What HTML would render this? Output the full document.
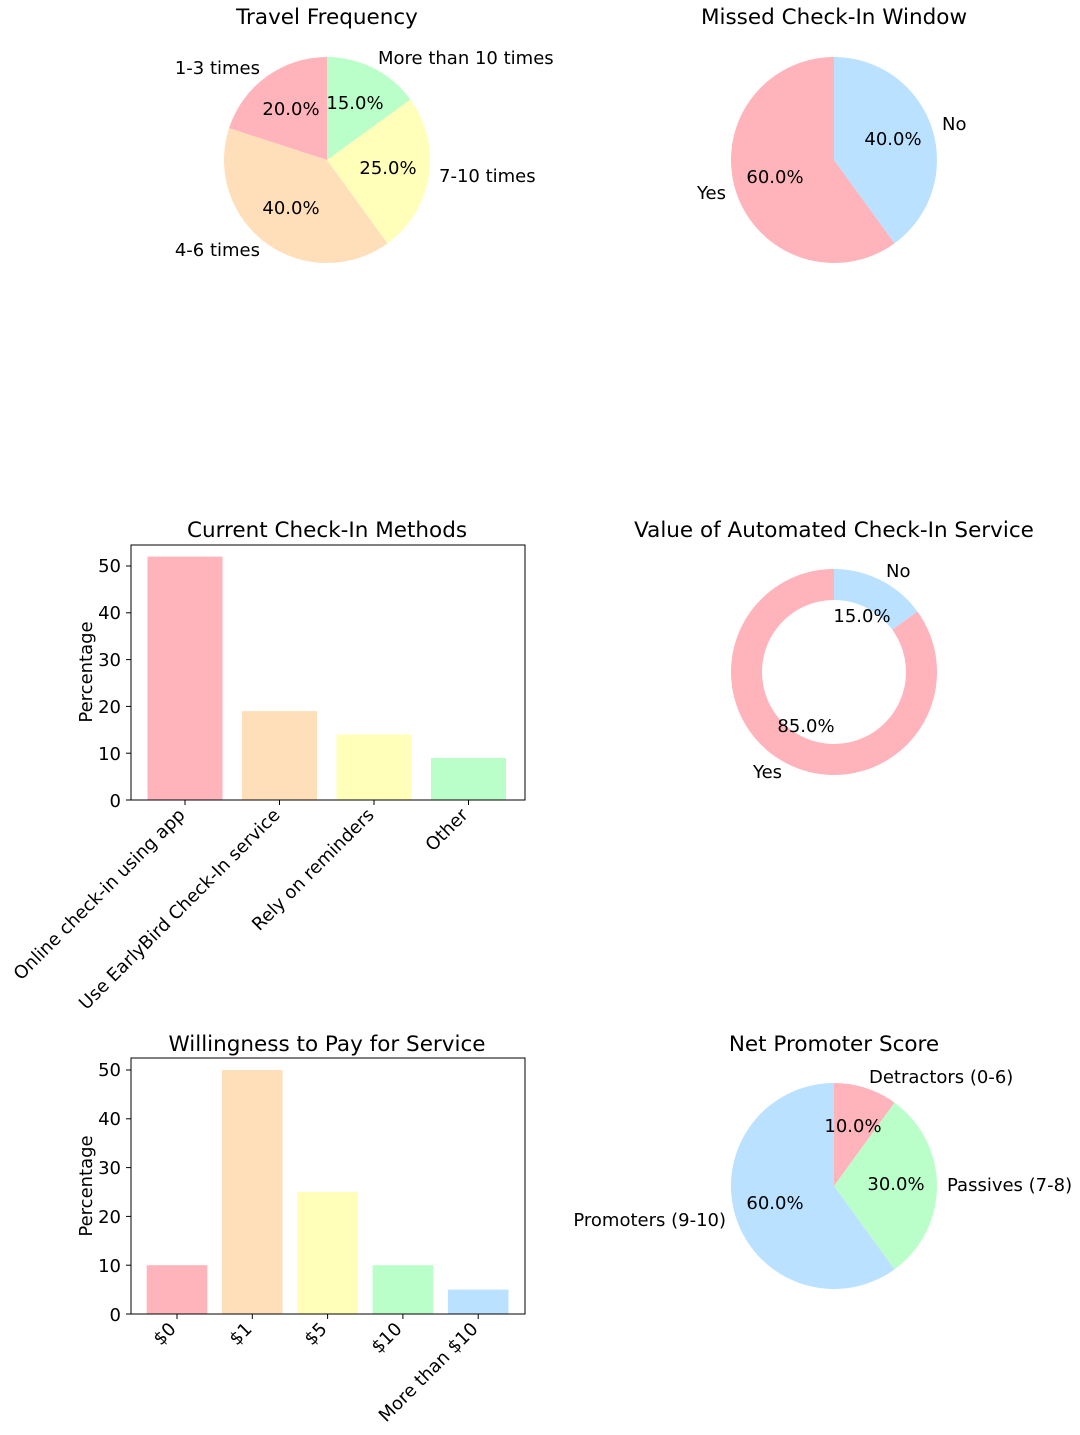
<!DOCTYPE html>
<html><head><meta charset="utf-8"><style>
body{margin:0;background:#fff}
svg{display:block;font-family:"DejaVu Sans","Liberation Sans",sans-serif}
.t{font-size:21.5px;text-anchor:middle}
.l{font-size:18px}
</style></head><body>
<svg id="s" width="1080" height="1435" viewBox="0 0 1080 1435" xmlns="http://www.w3.org/2000/svg">
<rect width="1080" height="1435" fill="#fff"/>
<g id="wedges"></g>
<text class="t" x="327" y="24">Travel Frequency</text>
<text class="t" x="834" y="24">Missed Check-In Window</text>
<text class="t" x="327" y="537">Current Check-In Methods</text>
<text class="t" x="834" y="537">Value of Automated Check-In Service</text>
<text class="t" x="327" y="1051">Willingness to Pay for Service</text>
<text class="t" x="834" y="1051">Net Promoter Score</text>

<g class="l">
<text x="260" y="74" text-anchor="end">1-3 times</text>
<text x="291" y="115" text-anchor="middle">20.0%</text>
<text x="260" y="256" text-anchor="end">4-6 times</text>
<text x="291" y="214" text-anchor="middle">40.0%</text>
<text x="439" y="182">7-10 times</text>
<text x="388" y="174" text-anchor="middle">25.0%</text>
<text x="378" y="64">More than 10 times</text>
<text x="355" y="109" text-anchor="middle">15.0%</text>
<text x="726" y="199" text-anchor="end">Yes</text>
<text x="775" y="183" text-anchor="middle">60.0%</text>
<text x="942" y="130">No</text>
<text x="893" y="145" text-anchor="middle">40.0%</text>
<text x="753" y="778">Yes</text>
<text x="806" y="732" text-anchor="middle">85.0%</text>
<text x="886" y="577">No</text>
<text x="862" y="622" text-anchor="middle">15.0%</text>
<text x="869" y="1083">Detractors (0-6)</text>
<text x="853" y="1132" text-anchor="middle">10.0%</text>
<text x="947" y="1191">Passives (7-8)</text>
<text x="896" y="1190" text-anchor="middle">30.0%</text>
<text x="726" y="1226" text-anchor="end">Promoters (9-10)</text>
<text x="775" y="1209" text-anchor="middle">60.0%</text>
</g>

<g>
<rect x="147.5" y="556.6" width="75" height="243.4" fill="#FFB3BA"/>
<rect x="242" y="711.1" width="75" height="88.9" fill="#FFDFBA"/>
<rect x="336.5" y="734.5" width="75" height="65.5" fill="#FFFFBA"/>
<rect x="431" y="757.9" width="75" height="42.1" fill="#BAFFC9"/>
<rect x="131" y="545" width="394" height="255" fill="none" stroke="#000" stroke-width="1"/>
<g stroke="#000">
<line x1="126" x2="131" y1="800" y2="800"/><line x1="126" x2="131" y1="753.2" y2="753.2"/><line x1="126" x2="131" y1="706.4" y2="706.4"/><line x1="126" x2="131" y1="659.6" y2="659.6"/><line x1="126" x2="131" y1="612.8" y2="612.8"/><line x1="126" x2="131" y1="566" y2="566"/>
<line x1="185" x2="185" y1="800" y2="805"/><line x1="279.5" x2="279.5" y1="800" y2="805"/><line x1="374" x2="374" y1="800" y2="805"/><line x1="468.5" x2="468.5" y1="800" y2="805"/>
</g>
<g class="l" text-anchor="end">
<text x="121" y="807">0</text><text x="121" y="760">10</text><text x="121" y="713">20</text><text x="121" y="666">30</text><text x="121" y="619">40</text><text x="121" y="572">50</text>
</g>
<text class="l" transform="translate(92,672) rotate(-90)" text-anchor="middle">Percentage</text>
<g class="l" text-anchor="end">
<text transform="translate(186,816) rotate(-45)">Online check-in using app</text>
<text transform="translate(281,816) rotate(-45)">Use EarlyBird Check-In service</text>
<text transform="translate(375,816) rotate(-45)">Rely on reminders</text>
<text transform="translate(469,816) rotate(-45)">Other</text>
</g>
</g>

<g>
<rect x="146.7" y="1265.2" width="60.6" height="48.8" fill="#FFB3BA"/>
<rect x="222" y="1070" width="60.6" height="244" fill="#FFDFBA"/>
<rect x="297.3" y="1192" width="60.6" height="122" fill="#FFFFBA"/>
<rect x="372.6" y="1265.2" width="60.6" height="48.8" fill="#BAFFC9"/>
<rect x="447.9" y="1289.6" width="60.6" height="24.4" fill="#BAE1FF"/>
<rect x="131" y="1058" width="394" height="256" fill="none" stroke="#000" stroke-width="1"/>
<g stroke="#000">
<line x1="126" x2="131" y1="1314" y2="1314"/><line x1="126" x2="131" y1="1265.2" y2="1265.2"/><line x1="126" x2="131" y1="1216.4" y2="1216.4"/><line x1="126" x2="131" y1="1167.6" y2="1167.6"/><line x1="126" x2="131" y1="1118.8" y2="1118.8"/><line x1="126" x2="131" y1="1070" y2="1070"/>
<line x1="177" x2="177" y1="1314" y2="1319"/><line x1="252.3" x2="252.3" y1="1314" y2="1319"/><line x1="327.6" x2="327.6" y1="1314" y2="1319"/><line x1="402.9" x2="402.9" y1="1314" y2="1319"/><line x1="478.2" x2="478.2" y1="1314" y2="1319"/>
</g>
<g class="l" text-anchor="end">
<text x="121" y="1321">0</text><text x="121" y="1272">10</text><text x="121" y="1223">20</text><text x="121" y="1174">30</text><text x="121" y="1125">40</text><text x="121" y="1076">50</text>
</g>
<text class="l" transform="translate(92,1186) rotate(-90)" text-anchor="middle">Percentage</text>
<g class="l" text-anchor="end">
<text transform="translate(177,1330) rotate(-45)">$0</text>
<text transform="translate(253,1330) rotate(-45)">$1</text>
<text transform="translate(328,1330) rotate(-45)">$5</text>
<text transform="translate(403,1330) rotate(-45)">$10</text>
<text transform="translate(479,1330) rotate(-45)">More than $10</text>
</g>
</g>
</svg>
<script>
(function(){
var P="#FFB3BA",O="#FFDFBA",Y="#FFFFBA",G="#BAFFC9",B="#BAE1FF";
var g=document.getElementById("wedges"),ns="http://www.w3.org/2000/svg";
function pt(cx,cy,r,a){a=a*Math.PI/180;return [cx+r*Math.cos(a),cy-r*Math.sin(a)];}
function wedge(cx,cy,r,ri,a1,a2,c){
 var large=Math.abs(a2-a1)>180?1:0,sweep=a2>a1?0:1;
 var p1=pt(cx,cy,r,a1),p2=pt(cx,cy,r,a2),d;
 if(ri>0){var q1=pt(cx,cy,ri,a2),q2=pt(cx,cy,ri,a1);
  d="M"+p1+"A"+r+","+r+" 0 "+large+" "+sweep+" "+p2+"L"+q1+"A"+ri+","+ri+" 0 "+large+" "+(1-sweep)+" "+q2+"Z";}
 else d="M"+cx+","+cy+"L"+p1+"A"+r+","+r+" 0 "+large+" "+sweep+" "+p2+"Z";
 var e=document.createElementNS(ns,"path");e.setAttribute("d",d);e.setAttribute("fill",c);g.appendChild(e);}
var r=103;
wedge(327,160,r,0,90,162,P);wedge(327,160,r,0,162,306,O);wedge(327,160,r,0,306,396,Y);wedge(327,160,r,0,396,450,G);
wedge(834,160,r,0,90,306,P);wedge(834,160,r,0,306,450,B);
wedge(834,672,r,72,90,396,P);wedge(834,672,r,72,396,450,B);
wedge(834,1186,r,0,90,54,P);wedge(834,1186,r,0,54,-54,G);wedge(834,1186,r,0,-54,-270,B);
})();
</script>
</body></html>
